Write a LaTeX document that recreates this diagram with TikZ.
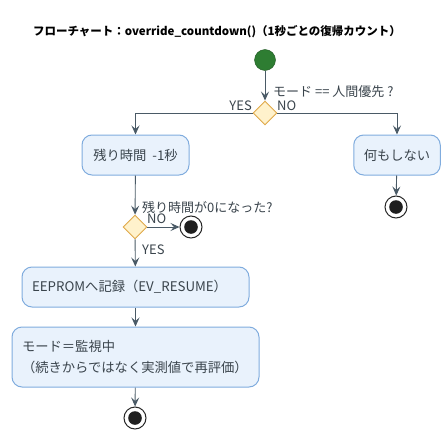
\documentclass[tikz,border=0pt]{standalone}
\usepackage{fontspec}
\setmainfont{Noto Sans CJK JP}
\usetikzlibrary{arrows.meta,shapes.geometric}
\definecolor{flowline}{HTML}{4A5A66}
\definecolor{actfill}{HTML}{E9F2FC}
\definecolor{actdraw}{HTML}{80ACDE}
\definecolor{decfill}{HTML}{FFF2CC}
\definecolor{decdraw}{HTML}{E0A94A}
\definecolor{startfill}{HTML}{2E7D32}
\definecolor{txtgray}{HTML}{3A444C}
\tikzset{
  action/.style={draw=actdraw,fill=actfill,rounded corners=10pt,line width=1pt,
    inner xsep=10pt,minimum height=40pt,text=txtgray,font=\fontsize{13.3}{21}\selectfont},
  decision/.style={diamond,draw=decdraw,fill=decfill,line width=0.9pt,
    minimum width=24pt,minimum height=24pt,inner sep=0pt},
  startnode/.style={circle,draw=startfill!70!black,fill=startfill,minimum size=21pt,inner sep=0pt},
  endnode/.style={circle,draw=black!85,fill=white,line width=1pt,minimum size=22pt,inner sep=0pt,
    path picture={\fill[black!88] (path picture bounding box.center) circle (6.8pt);}},
  lbl/.style={text=txtgray,font=\fontsize{13}{15}\selectfont,inner sep=0pt},
}
\begin{document}
\begin{tikzpicture}[x=1pt,y=-1pt,>={Stealth[length=9pt,width=8pt,inset=3.5pt]}]
\useasboundingbox (0,0) rectangle (447,439);
\node[font=\fontsize{11.5}{14}\selectfont\bfseries] (title) at (217,32) {フローチャート：override\_countdown()（1秒ごとの復帰カウント）};
% nodes
\node[startnode] (start) at (265,60) {};
\node[decision] (chkmode) at (265,113) {};
\node[action,minimum width=107pt] (dec) at (135.5,155) {残り時間 \ -1秒};
\node[action,minimum width=80pt] (noop) at (397,155) {何もしない};
\node[endnode] (endA) at (396,207) {};
\node[decision] (chkzero) at (135,227) {};
\node[endnode] (endB) at (191,227) {};
\node[action,text width=207pt,align=left] (save) at (135.5,287) {EEPROMへ記録（EV\_RESUME）};
\node[action,text width=227pt,align=left,minimum height=60pt] (mode) at (135.5,357) {モード＝監視中\\（続きからではなく実測値で再評価）};
\node[endnode] (endC) at (135,418) {};
% connectors
\begin{scope}[draw=flowline,line width=0.9pt]
\draw[->] (start) -- (chkmode);
\draw[->] (chkmode.west) -| (dec);
\draw[->] (chkmode.east) -| (noop);
\draw[->] (noop) -- (endA);
\draw[->] (dec) -- (chkzero);
\draw[->] (chkzero) -- (endB);
\draw[->] (chkzero) -- (save);
\draw[->] (save) -- (mode);
\draw[->] (mode) -- (endC);
\end{scope}
% labels
\node[lbl,anchor=west] (qmode) at (273,92) {モード == 人間優先 ?};
\node[lbl,anchor=east] (yesA) at (252,106) {YES};
\node[lbl,anchor=west] (noA) at (277,106) {NO};
\node[lbl,anchor=west] (qzero) at (142,207) {残り時間が0になった?};
\node[lbl,anchor=west] (noB) at (147,219) {NO};
\node[lbl,anchor=west] (yesB) at (142,250) {YES};
\end{tikzpicture}
\end{document}
